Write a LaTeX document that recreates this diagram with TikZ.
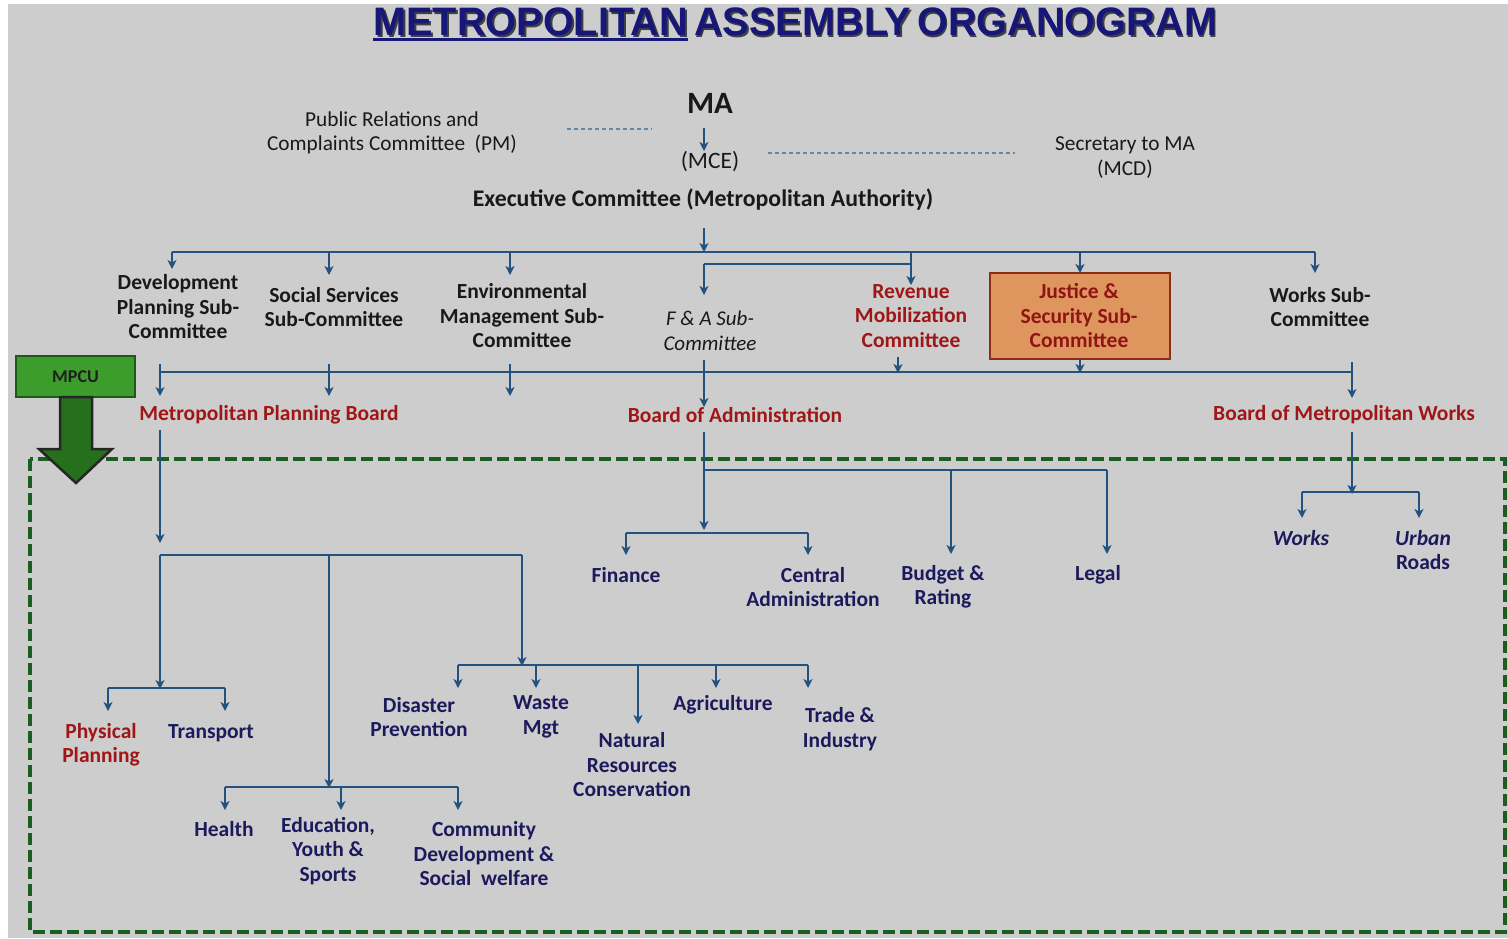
\documentclass[tikz,border=0pt]{standalone}
\usepackage{fontspec}
\setmainfont{Carlito}
\newfontfamily\titlefont{Liberation Sans}
\usetikzlibrary{arrows.meta}
\definecolor{bg}{HTML}{CDCDCD}
\definecolor{lnc}{HTML}{24527E}
\definecolor{navy}{HTML}{1C1A5C}
\definecolor{dred}{HTML}{A01616}
\definecolor{ttl}{HTML}{17177A}
\definecolor{boxfill}{HTML}{DE965E}
\definecolor{boxdraw}{HTML}{8A2E18}
\definecolor{mpcu}{HTML}{3C9C2C}
\definecolor{mpcuarrow}{HTML}{256F1D}
\definecolor{dashg}{HTML}{1B5E22}
\tikzset{
  ln/.style={draw=lnc, line width=2.3pt},
  arr/.style={draw=lnc, line width=2.3pt, -{Stealth[length=9pt,width=9pt,inset=2.5pt]}},
  lbl/.style={font=\bfseries\fontsize{21.5}{24.5}\selectfont, align=center, inner sep=0pt, text=black!90},
  reg/.style={font=\fontsize{21.3}{24.5}\selectfont, align=center, inner sep=0pt, text=black!90},
  redlbl/.style={lbl, text=dred},
  sub/.style={lbl, text=navy},
  dots/.style={draw=lnc!70, line width=1.2pt, dash pattern=on 4pt off 3pt},
  ttlfont/.style={font=\titlefont\bfseries\fontsize{39.7}{40}\selectfont, inner sep=0pt}
}
\begin{document}
\begin{tikzpicture}[x=1pt,y=-1pt]
% page and backdrop
\useasboundingbox (0,0) rectangle (1508,938);
\fill[white] (0,0) rectangle (1508,938);
\fill[bg] (8,4) rectangle (1508,938);

% heading with drop shadow
\node[ttlfont, anchor=base west, text=black!75] at (375,37) {METROPOLITAN\hspace{6pt}ASSEMBLY\hspace{6pt}ORGANOGRAM};
\node[ttlfont, anchor=base west, text=ttl] (t1) at (373,35) {METROPOLITAN};
\node[ttlfont, anchor=base west, text=ttl] (t2) at ([xshift=6pt]t1.base east) {ASSEMBLY\hspace{6pt}ORGANOGRAM};
\fill[ttl] ([yshift=-3pt]t1.base west) rectangle ([yshift=-6pt]t1.base east);

% top authority
\node[lbl, font=\bfseries\fontsize{31}{32}\selectfont] (ma) at (710,103) {MA};
\node[reg, font=\fontsize{23.5}{24.5}\selectfont] (mce) at (710,162) {(MCE)};
\node[reg] (prc) at (392,133) {Public Relations and\\Complaints Committee\ \ (PM)};
\node[reg] (sec) at (1125,157.5) {Secretary to MA\\(MCD)};
\node[lbl, font=\bfseries\fontsize{23.8}{24.5}\selectfont] (exec) at (703,200) {Executive Committee (Metropolitan Authority)};
\coordinate (maA) at (704,128);
\coordinate (maB) at (704,151);
\draw[arr] (maA) -- (maB);
\coordinate (d1a) at (567,129); \coordinate (d1b) at (652,129);
\draw[dots] (d1a) -- (d1b);
\coordinate (d2a) at (768,153); \coordinate (d2b) at (1015,153);
\draw[dots] (d2a) -- (d2b);

% sub-committees
\node[lbl] (dev) at (178,307) {Development\\Planning Sub-\\Committee};
\node[lbl] (soc) at (334,307) {Social Services\\Sub-Committee};
\node[lbl] (env) at (522,316) {Environmental\\Management Sub-\\Committee};
\node[reg, font=\itshape\fontsize{21}{24.5}\selectfont] (fa) at (710,331) {F \& A Sub-\\Committee};
\node[redlbl] (rev) at (911,316) {Revenue\\Mobilization\\Committee};
\node[draw=boxdraw, line width=2.5pt, fill=boxfill, minimum width=180pt, minimum height=86pt, inner sep=0pt] (jbox) at (1080,316) {};
\node[redlbl, text=dred!90!black] (jus) at (1079,316) {Justice \&\\Security Sub-\\Committee};
\node[lbl] (wsub) at (1320,307) {Works Sub-\\Committee};

% first distribution bus
\coordinate (e1) at (704,228);
\coordinate (b1m) at (704,252);
\coordinate (b1l) at (172,252);
\coordinate (b1r) at (1315,252);
\draw[ln] (b1l) -- (b1r);
\draw[arr] (e1) -- (b1m);
\coordinate (devT) at (172,269); \draw[arr] (b1l) -- (devT);
\coordinate (socB) at (329,252); \coordinate (socT) at (329,275); \draw[arr] (socB) -- (socT);
\coordinate (envB) at (510,252); \coordinate (envT) at (510,275); \draw[arr] (envB) -- (envT);
\coordinate (revB) at (911,252); \coordinate (revT) at (911,285); \draw[arr] (revB) -- (revT);
\coordinate (jusB) at (1080,252); \coordinate (jusT) at (1080,273); \draw[arr] (jusB) -- (jusT);
\coordinate (wsT) at (1315,273); \draw[arr] (b1r) -- (wsT);
\coordinate (faL) at (704,264); \coordinate (faR) at (911,264);
\draw[ln] (faR) -- (faL);
\coordinate (faT) at (704,295); \draw[arr] (faL) -- (faT);

% second distribution bus
\coordinate (b2l) at (160,372);
\coordinate (b2r) at (1352,372);
\draw[ln] (b2l) -- (b2r);
\coordinate (revS) at (898,357); \coordinate (revE) at (898,373); \draw[arr] (revS) -- (revE);
\coordinate (jusS) at (1080,360); \coordinate (jusE) at (1080,373); \draw[arr] (jusS) -- (jusE);
\coordinate (p1s) at (160,364); \coordinate (p1e) at (160,396); \draw[arr] (p1s) -- (p1e);
\coordinate (p2s) at (329,364); \coordinate (p2e) at (329,396); \draw[arr] (p2s) -- (p2e);
\coordinate (p3s) at (510,364); \coordinate (p3e) at (510,396); \draw[arr] (p3s) -- (p3e);
\coordinate (faS) at (704,360); \coordinate (faE) at (704,407); \draw[arr] (faS) -- (faE);
\coordinate (wS) at (1352,362); \coordinate (wE) at (1352,398); \draw[arr] (wS) -- (wE);

% boards
\node[redlbl] (mpb) at (269,415) {Metropolitan Planning Board};
\node[redlbl] (boa) at (735,415) {Board of Administration};
\node[redlbl] (bmw) at (1344,415) {Board of Metropolitan Works};

% MPCU and its arrow
\draw[dashg, line width=3.5pt, dash pattern=on 12pt off 5pt] (30,459) rectangle (1505,932);
\node[fill=mpcu, draw=mpcuarrow!80!black, line width=1.5pt, minimum width=119pt, minimum height=41pt, inner sep=0pt,
  font=\bfseries\fontsize{18}{18}\selectfont, text=black!88] (mpcuN) at (75.5,376.5) {MPCU};
\fill[mpcuarrow, draw=black!85, line width=2.5pt, line join=miter]
  (60,397) -- (92,397) -- (92,449) -- (112,449) -- (76,483) -- (39,449) -- (60,449) -- cycle;

% planning branch
\coordinate (m0) at (160,430); \coordinate (m1) at (160,543); \draw[arr] (m0) -- (m1);
\coordinate (pl) at (160,555); \coordinate (pr) at (522,555); \coordinate (pm) at (329,555);
\draw[ln] (pl) -- (pr);
\coordinate (pA) at (160,689); \draw[arr] (pl) -- (pA);
\coordinate (ppl) at (108,688); \coordinate (ppr) at (225,688);
\draw[ln] (ppl) -- (ppr);
\coordinate (ppa) at (108,711); \draw[arr] (ppl) -- (ppa);
\coordinate (ppb) at (225,711); \draw[arr] (ppr) -- (ppb);
\node[redlbl] (phys) at (101,745) {Physical\\Planning};
\node[sub] (trans) at (211,733) {Transport};

\coordinate (pB) at (329,788); \draw[arr] (pm) -- (pB);
\coordinate (hl) at (225,787); \coordinate (hr) at (458,787); \coordinate (hm) at (341,787);
\draw[ln] (hl) -- (hr);
\coordinate (ha) at (225,810); \draw[arr] (hl) -- (ha);
\coordinate (hb) at (341,810); \draw[arr] (hm) -- (hb);
\coordinate (hc) at (458,810); \draw[arr] (hr) -- (hc);
\node[sub] (health) at (224,829) {Health};
\node[sub] (edu) at (328,851) {Education,\\Youth \&\\Sports};
\node[sub] (comm) at (484,854) {Community\\Development \&\\Social\ \ welfare};

\coordinate (pC) at (522,666); \draw[arr] (pr) -- (pC);
\coordinate (el) at (458,665); \coordinate (er) at (808,665);
\draw[ln] (el) -- (er);
\coordinate (ea) at (458,688); \draw[arr] (el) -- (ea);
\coordinate (eb0) at (536,665); \coordinate (eb) at (536,688); \draw[arr] (eb0) -- (eb);
\coordinate (ec0) at (638,665); \coordinate (ec) at (638,724); \draw[arr] (ec0) -- (ec);
\coordinate (ed0) at (716,665); \coordinate (ed) at (716,688); \draw[arr] (ed0) -- (ed);
\coordinate (ee) at (808,688); \draw[arr] (er) -- (ee);
\node[sub] (dis) at (419,717) {Disaster\\Prevention};
\node[sub] (waste) at (541,717) {Waste\\Mgt};
\node[sub] (nat) at (632,765) {Natural\\Resources\\Conservation};
\node[sub] (agr) at (723,705) {Agriculture};
\node[sub] (trade) at (840,729) {Trade \&\\Industry};

% administration branch
\coordinate (a0) at (704,432); \coordinate (a1) at (704,530); \draw[arr] (a0) -- (a1);
\coordinate (ah) at (704,470); \coordinate (ahr) at (1107,470); \coordinate (ahm) at (951,470);
\draw[ln] (ah) -- (ahr);
\coordinate (ab) at (951,554); \draw[arr] (ahm) -- (ab);
\coordinate (al) at (1107,554); \draw[arr] (ahr) -- (al);
\coordinate (afl) at (626,533); \coordinate (afr) at (808,533);
\draw[ln] (afl) -- (afr);
\coordinate (afa) at (626,555); \draw[arr] (afl) -- (afa);
\coordinate (afb) at (808,555); \draw[arr] (afr) -- (afb);
\node[sub] (fin) at (626,575) {Finance};
\node[sub] (cen) at (813,587) {Central\\Administration};
\node[sub] (bud) at (943,587) {Budget \&\\Rating};
\node[sub] (leg) at (1098,575) {Legal};

% works branch
\coordinate (w0) at (1352,432); \coordinate (w1) at (1352,494); \draw[arr] (w0) -- (w1);
\coordinate (wl) at (1302,492); \coordinate (wr) at (1419,492);
\draw[ln] (wl) -- (wr);
\coordinate (wa) at (1302,518); \draw[arr] (wl) -- (wa);
\coordinate (wb) at (1419,518); \draw[arr] (wr) -- (wb);
\node[sub, font=\bfseries\itshape\fontsize{21.5}{24.5}\selectfont] (wk) at (1301,538) {Works};
\node[sub] (urb) at (1423,550) {\textit{Urban}\\Roads};
\end{tikzpicture}
\end{document}
